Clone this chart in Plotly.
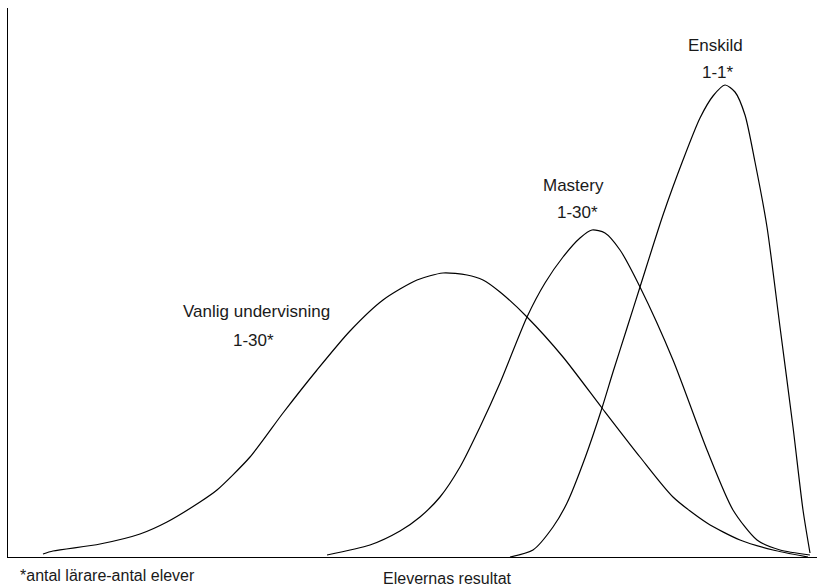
import plotly.graph_objects as go

# Readings from the picture: x = horizontal position (result), py = pixel row of the curve
vanlig_x = [43, 53, 100, 140, 167, 200, 217, 250, 283, 317, 350, 383, 417, 443, 467, 483, 500, 527, 563, 602, 640, 673, 707, 740, 773, 808]
vanlig_py = [554, 551, 544, 534, 522, 502, 490, 457, 413, 370, 331, 300, 280, 273, 275, 280, 292, 317, 357, 408, 457, 497, 523, 540, 550, 557]

mastery_x = [327, 370, 400, 420, 440, 460, 480, 500, 527, 545, 563, 580, 592, 605, 620, 640, 673, 707, 733, 757, 780, 810]
mastery_py = [555, 545, 531, 517, 497, 467, 427, 383, 317, 283, 257, 238, 230, 233, 250, 287, 360, 450, 510, 540, 550, 555]

enskild_x = [510, 533, 553, 567, 585, 602, 613, 627, 640, 663, 683, 700, 713, 725, 735, 745, 755, 767, 780, 793, 803, 810]
enskild_py = [557, 550, 527, 503, 458, 408, 372, 328, 287, 215, 160, 118, 96, 85, 92, 115, 162, 227, 327, 427, 510, 553]

BASE = 557
vanlig_y = [BASE - v for v in vanlig_py]
mastery_y = [BASE - v for v in mastery_py]
enskild_y = [BASE - v for v in enskild_py]

labels = [
    ("Vanlig undervisning", 256, BASE - 311),
    ("1-30*", 253, BASE - 340),
    ("Mastery", 573, BASE - 185),
    ("1-30*", 577, BASE - 212),
    ("Enskild", 715, BASE - 45),
    ("1-1*", 718, BASE - 72),
]

FONT = "Liberation Sans"
fig = go.Figure()
for xs, ys in [(vanlig_x, vanlig_y), (mastery_x, mastery_y), (enskild_x, enskild_y)]:
    fig.add_trace(go.Scatter(x=xs, y=ys, mode="lines",
                             line=dict(color="black", width=1.2, shape="spline", smoothing=0.7),
                             showlegend=False, hoverinfo="skip"))

for txt, x, y in labels:
    fig.add_annotation(x=x, y=y, text=txt, showarrow=False, xanchor="center", yanchor="middle",
                       font=dict(family=FONT, size=17, color="#1a1a1a"))

H = 549.0
fig.add_annotation(x=18, y=-18 / H, xref="x", yref="paper", text="*antal lärare-antal elever",
                   showarrow=False, xanchor="left", yanchor="middle",
                   font=dict(family=FONT, size=16, color="#1a1a1a"))
fig.add_annotation(x=447, y=-21 / H, xref="x", yref="paper", text="Elevernas resultat",
                   showarrow=False, xanchor="center", yanchor="middle",
                   font=dict(family=FONT, size=16, color="#1a1a1a"))

fig.update_layout(
    width=829, height=586,
    margin=dict(l=8, r=12, t=8, b=29),
    paper_bgcolor="white", plot_bgcolor="white",
    xaxis=dict(range=[8, 817], showgrid=False, zeroline=False, showticklabels=False,
               ticks="", showline=True, linecolor="black", linewidth=1.2, fixedrange=True),
    yaxis=dict(range=[0, 549], showgrid=False, zeroline=False, showticklabels=False,
               ticks="", showline=True, linecolor="black", linewidth=1.2, fixedrange=True),
)
fig.write_html("out.html", config={"displayModeBar": False},
               post_script="document.body.style.margin='0';document.body.style.overflow='hidden';")
